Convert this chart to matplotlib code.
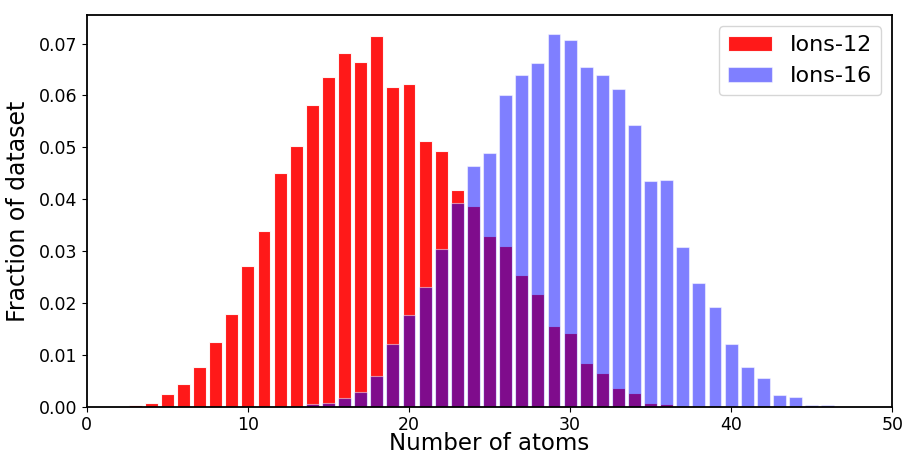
import matplotlib
matplotlib.use("Agg")
import matplotlib.pyplot as plt

# number of atoms per molecule
atoms_12 = list(range(3, 37))
frac_12 = [0.0003, 0.0008, 0.0024, 0.0043, 0.0076, 0.0124, 0.0179, 0.0272, 0.0338, 0.0451,
           0.0502, 0.0582, 0.0636, 0.0681, 0.0665, 0.0715, 0.0617, 0.0622, 0.0513, 0.0493,
           0.0418, 0.0387, 0.0329, 0.0310, 0.0254, 0.0218, 0.0156, 0.0142, 0.0085, 0.0065,
           0.0036, 0.0026, 0.0008, 0.0006]

atoms_16 = list(range(14, 47))
frac_16 = [0.0005, 0.0008, 0.0017, 0.0028, 0.0059, 0.0121, 0.0177, 0.0231, 0.0304, 0.0393,
           0.0464, 0.0490, 0.0601, 0.0639, 0.0663, 0.0719, 0.0707, 0.0654, 0.0639, 0.0613,
           0.0544, 0.0435, 0.0437, 0.0308, 0.0239, 0.0192, 0.0121, 0.0076, 0.0056, 0.0022,
           0.0018, 0.0003, 0.0003]

labels = ["Ions-12", "Ions-16"]

fig, ax = plt.subplots(figsize=(9.04, 4.57), dpi=100)
ax.bar(atoms_12, frac_12, color="red", alpha=0.9, edgecolor="white", linewidth=0.8, label=labels[0])
ax.bar(atoms_16, frac_16, color="blue", alpha=0.5, edgecolor="white", linewidth=0.8, label=labels[1])

ax.set_xlim(0, 50)
ax.set_xlabel("Number of atoms", fontsize=16.5, labelpad=-1)
ax.set_ylabel("Fraction of dataset", fontsize=17, labelpad=6)
ax.tick_params(labelsize=12.5)
ax.tick_params(axis="x", pad=3)
for s in ax.spines.values():
    s.set_linewidth(1.3)
ax.legend(fontsize=16, loc="upper right")

fig.subplots_adjust(left=0.096, right=0.987, top=0.967, bottom=0.11)
fig.savefig("out.png", dpi=100)
